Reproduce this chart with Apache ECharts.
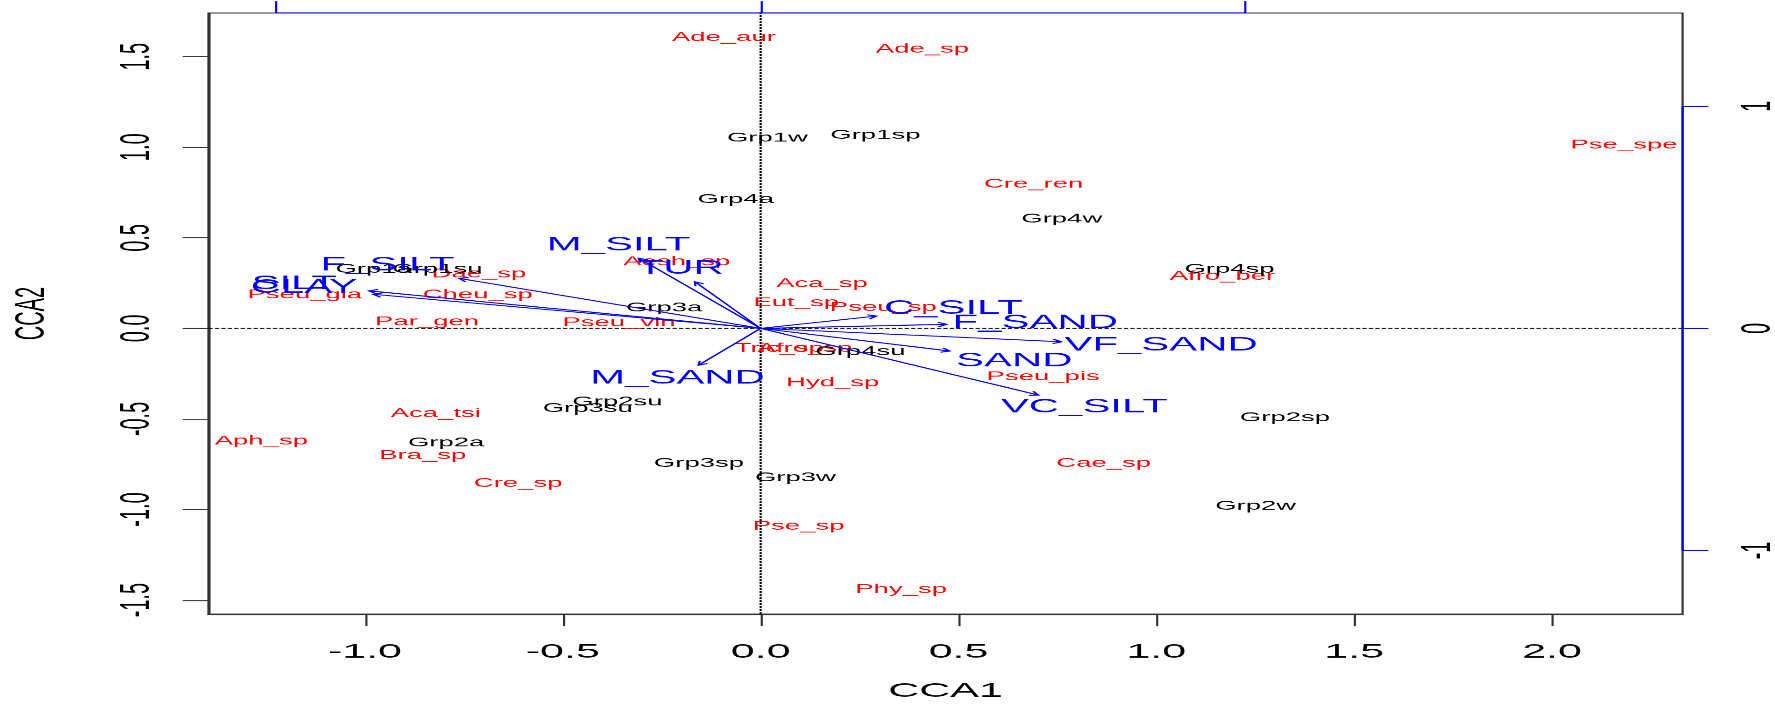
<!DOCTYPE html>
<html>
<head>
<meta charset="utf-8">
<script src="https://cdn.jsdelivr.net/npm/echarts@6/dist/echarts.min.js"></script>
<style>
  html, body { margin: 0; padding: 0; background: #fff; overflow: hidden; }
  #wrap { width: 1775px; height: 707px; overflow: hidden; }
  /* the plot is laid out narrow and widened horizontally */
  #chart { width: 826px; height: 707px; transform: scaleX(2.14891); transform-origin: 0 0; }
</style>
</head>
<body>
<div id="wrap"><div id="chart"></div></div>
<script>
// Axis ranges of the score plot and the scale between arrow units and score units
const X_RANGE = [-1.3956, 2.330];
const Y_RANGE = [-1.5776, 1.741];
const ARROW_MUL = 1.226;
const X_TICKS = [-1, -0.5, 0, 0.5, 1, 1.5, 2];
const Y_TICKS = [-1.5, -1, -0.5, 0, 0.5, 1, 1.5];
const ARROW_TICKS = [-1, 0, 1];

// Species scores (CCA1, CCA2)
const speciesNames = ['Ade_aur', 'Ade_sp', 'Pse_spe', 'Cre_ren', 'Aesh_sp', 'Dae_sp', 'Pseu_gla', 'Cheu_sp',
  'Par_gen', 'Pseu_vin', 'Aca_sp', 'Eut_sp', 'Pseu_sp', 'Afro_ber', 'Tric_sp', 'Afro_sp', 'Pseu_pis',
  'Hyd_sp', 'Aca_tsi', 'Aph_sp', 'Bra_sp', 'Cre_sp', 'Cae_sp', 'Pse_sp', 'Phy_sp'];
const speciesX = [-0.093, 0.409, 2.182, 0.690, -0.212, -0.712, -1.152, -0.715,
  -0.843, -0.358, 0.155, 0.090, 0.310, 1.167, 0.047, 0.112, 0.714,
  0.182, -0.821, -1.262, -0.854, -0.613, 0.867, 0.096, 0.355];
const speciesY = [1.607, 1.541, 1.012, 0.797, 0.368, 0.300, 0.184, 0.184,
  0.036, 0.031, 0.248, 0.141, 0.116, 0.289, -0.110, -0.110, -0.267,
  -0.300, -0.469, -0.622, -0.701, -0.856, -0.745, -1.092, -1.441];

// Site scores (CCA1, CCA2)
const siteNames = ['Grp1w', 'Grp1sp', 'Grp4a', 'Grp4w', 'Grp1a', 'Grp1su', 'Grp4sp', 'Grp3a',
  'Grp4su', 'Grp2su', 'Grp3su', 'Grp2a', 'Grp3sp', 'Grp3w', 'Grp2sp', 'Grp2w'];
const siteX = [0.017, 0.290, -0.063, 0.761, -0.978, -0.817, 1.185, -0.244,
  0.252, -0.362, -0.437, -0.795, -0.156, 0.088, 1.325, 1.251];
const siteY = [1.052, 1.067, 0.712, 0.604, 0.326, 0.326, 0.326, 0.114,
  -0.129, -0.405, -0.442, -0.632, -0.745, -0.825, -0.494, -0.981];

// Environmental variables: arrow tips and label positions
const envNames = ['CLAY', 'SILT', 'F_SILT', 'M_SILT', 'TUR', 'C_SILT', 'F_SAND', 'VF_SAND', 'SAND', 'VC_SILT', 'M_SAND'];
const envX = [-0.979, -0.990, -0.762, -0.308, -0.166, 0.293, 0.470, 0.760, 0.478, 0.702, -0.157];
const envY = [0.188, 0.207, 0.276, 0.387, 0.257, 0.068, 0.022, -0.074, -0.125, -0.368, -0.203];
const envLabelX = [-1.154, -1.179, -0.943, -0.359, -0.202, 0.487, 0.694, 1.012, 0.641, 0.818, -0.210];
const envLabelY = [0.226, 0.246, 0.350, 0.460, 0.331, 0.110, 0.031, -0.092, -0.179, -0.433, -0.276];

const FONT = "'Liberation Sans', Arial, Helvetica, sans-serif";
const BOX = '#333333';

function textSeries(names, xs, ys, color, size, z) {
  return {
    type: 'custom',
    coordinateSystem: 'cartesian2d',
    clip: true,
    silent: true,
    z: z,
    encode: { x: 0, y: 1 },
    data: xs.map((x, i) => [x, ys[i]]),
    renderItem: function (params, api) {
      const p = api.coord([api.value(0), api.value(1)]);
      return {
        type: 'text',
        x: p[0], y: p[1],
        style: {
          text: names[params.dataIndex],
          fill: color,
          fontSize: size,
          fontFamily: FONT,
          align: 'center',
          verticalAlign: 'middle'
        }
      };
    }
  };
}

const arrowSeries = {
  type: 'custom',
  coordinateSystem: 'cartesian2d',
  clip: true,
  silent: true,
  z: 4,
  encode: { x: 0, y: 1 },
  data: envX.map((x, i) => [x, envY[i]]),
  renderItem: function (params, api) {
    const o = api.coord([0, 0]);
    const t = api.coord([api.value(0), api.value(1)]);
    const ang = Math.atan2(t[1] - o[1], t[0] - o[0]);
    const L = 4.5, a = Math.PI / 6;
    const h1 = [t[0] - L * Math.cos(ang - a), t[1] - L * Math.sin(ang - a)];
    const h2 = [t[0] - L * Math.cos(ang + a), t[1] - L * Math.sin(ang + a)];
    const st = { stroke: '#0000FF', lineWidth: 1, fill: null };
    return {
      type: 'group',
      children: [
        { type: 'line', shape: { x1: o[0], y1: o[1], x2: t[0], y2: t[1] }, style: st },
        { type: 'polyline', shape: { points: [h1, t, h2] }, style: st }
      ]
    };
  }
};

const chart = echarts.init(document.getElementById('chart'), null, {
  renderer: 'canvas',
  devicePixelRatio: 1775 / 826
});

const tickFmt = v => Number(v).toFixed(1);

chart.setOption({
  animation: false,
  backgroundColor: '#ffffff',
  grid: {
    left: 97, right: 43, top: 13, bottom: 93,
    outerBoundsMode: 'none',
    containLabel: false,
    show: true, borderColor: BOX, borderWidth: 1, backgroundColor: 'transparent'
  },
  xAxis: [
    {
      type: 'value', position: 'bottom',
      min: X_RANGE[0], max: X_RANGE[1],
      name: 'CCA1', nameLocation: 'middle', nameGap: 67,
      nameTextStyle: { fontSize: 20, color: '#000', fontFamily: FONT },
      axisLine: { show: true, onZero: false, lineStyle: { color: BOX, width: 1 } },
      axisTick: { show: true, customValues: X_TICKS, length: 12, lineStyle: { color: BOX, width: 1 } },
      axisLabel: { customValues: X_TICKS, formatter: tickFmt, fontSize: 20, color: '#000', fontFamily: FONT, margin: 28 },
      splitLine: { show: false }
    },
    {
      type: 'value', position: 'top',
      min: X_RANGE[0] / ARROW_MUL, max: X_RANGE[1] / ARROW_MUL,
      axisLine: { show: false, onZero: false },
      axisTick: { show: true, customValues: ARROW_TICKS, length: 12, lineStyle: { color: '#0000FF', width: 1 } },
      axisLabel: { show: false },
      splitLine: { show: false }
    }
  ],
  yAxis: [
    {
      type: 'value', position: 'left',
      min: Y_RANGE[0], max: Y_RANGE[1],
      name: 'CCA2', nameLocation: 'middle', nameGap: 72,
      nameTextStyle: { fontSize: 20, color: '#000', fontFamily: FONT },
      axisLine: { show: true, onZero: false, lineStyle: { color: BOX, width: 1 } },
      axisTick: { show: true, customValues: Y_TICKS, length: 12, lineStyle: { color: BOX, width: 1 } },
      axisLabel: { customValues: Y_TICKS, formatter: tickFmt, rotate: 90, fontSize: 20, color: '#000', fontFamily: FONT, margin: 23 },
      splitLine: { show: false }
    },
    {
      type: 'value', position: 'right',
      min: Y_RANGE[0] / ARROW_MUL, max: Y_RANGE[1] / ARROW_MUL,
      axisLine: { show: false, onZero: false },
      axisTick: { show: true, customValues: ARROW_TICKS, length: 12, lineStyle: { color: '#0000FF', width: 1 } },
      axisLabel: { customValues: ARROW_TICKS, formatter: v => String(v), rotate: 90, fontSize: 20, color: '#000', fontFamily: FONT, margin: 25 },
      splitLine: { show: false }
    }
  ],
  series: [
    // dotted reference lines through the origin
    {
      type: 'line', xAxisIndex: 0, yAxisIndex: 0, symbol: 'none', silent: true, z: 1,
      data: [[X_RANGE[0], 0], [X_RANGE[1], 0]],
      lineStyle: { color: '#000', width: 1, type: [2, 1] }
    },
    {
      type: 'line', xAxisIndex: 0, yAxisIndex: 0, symbol: 'none', silent: true, z: 1,
      data: [[0, Y_RANGE[0]], [0, Y_RANGE[1]]],
      lineStyle: { color: '#000', width: 1, type: [2, 1] }
    },
    textSeries(speciesNames, speciesX, speciesY, '#FF0000', 12.8, 2),
    textSeries(siteNames, siteX, siteY, '#000000', 12.8, 3),
    arrowSeries,
    textSeries(envNames, envLabelX, envLabelY, '#0000FF', 19.5, 5),
    // arrow-scale axis lines along the top and right edges
    {
      type: 'line', xAxisIndex: 1, yAxisIndex: 0, symbol: 'none', silent: true, clip: false, z: 6,
      data: [[ARROW_TICKS[0], Y_RANGE[1]], [ARROW_TICKS[2], Y_RANGE[1]]],
      lineStyle: { color: '#0000FF', width: 1 }
    },
    {
      type: 'line', xAxisIndex: 0, yAxisIndex: 1, symbol: 'none', silent: true, clip: false, z: 6,
      data: [[X_RANGE[1], ARROW_TICKS[0]], [X_RANGE[1], ARROW_TICKS[2]]],
      lineStyle: { color: '#0000FF', width: 1 }
    }
  ]
});
</script>
</body>
</html>
